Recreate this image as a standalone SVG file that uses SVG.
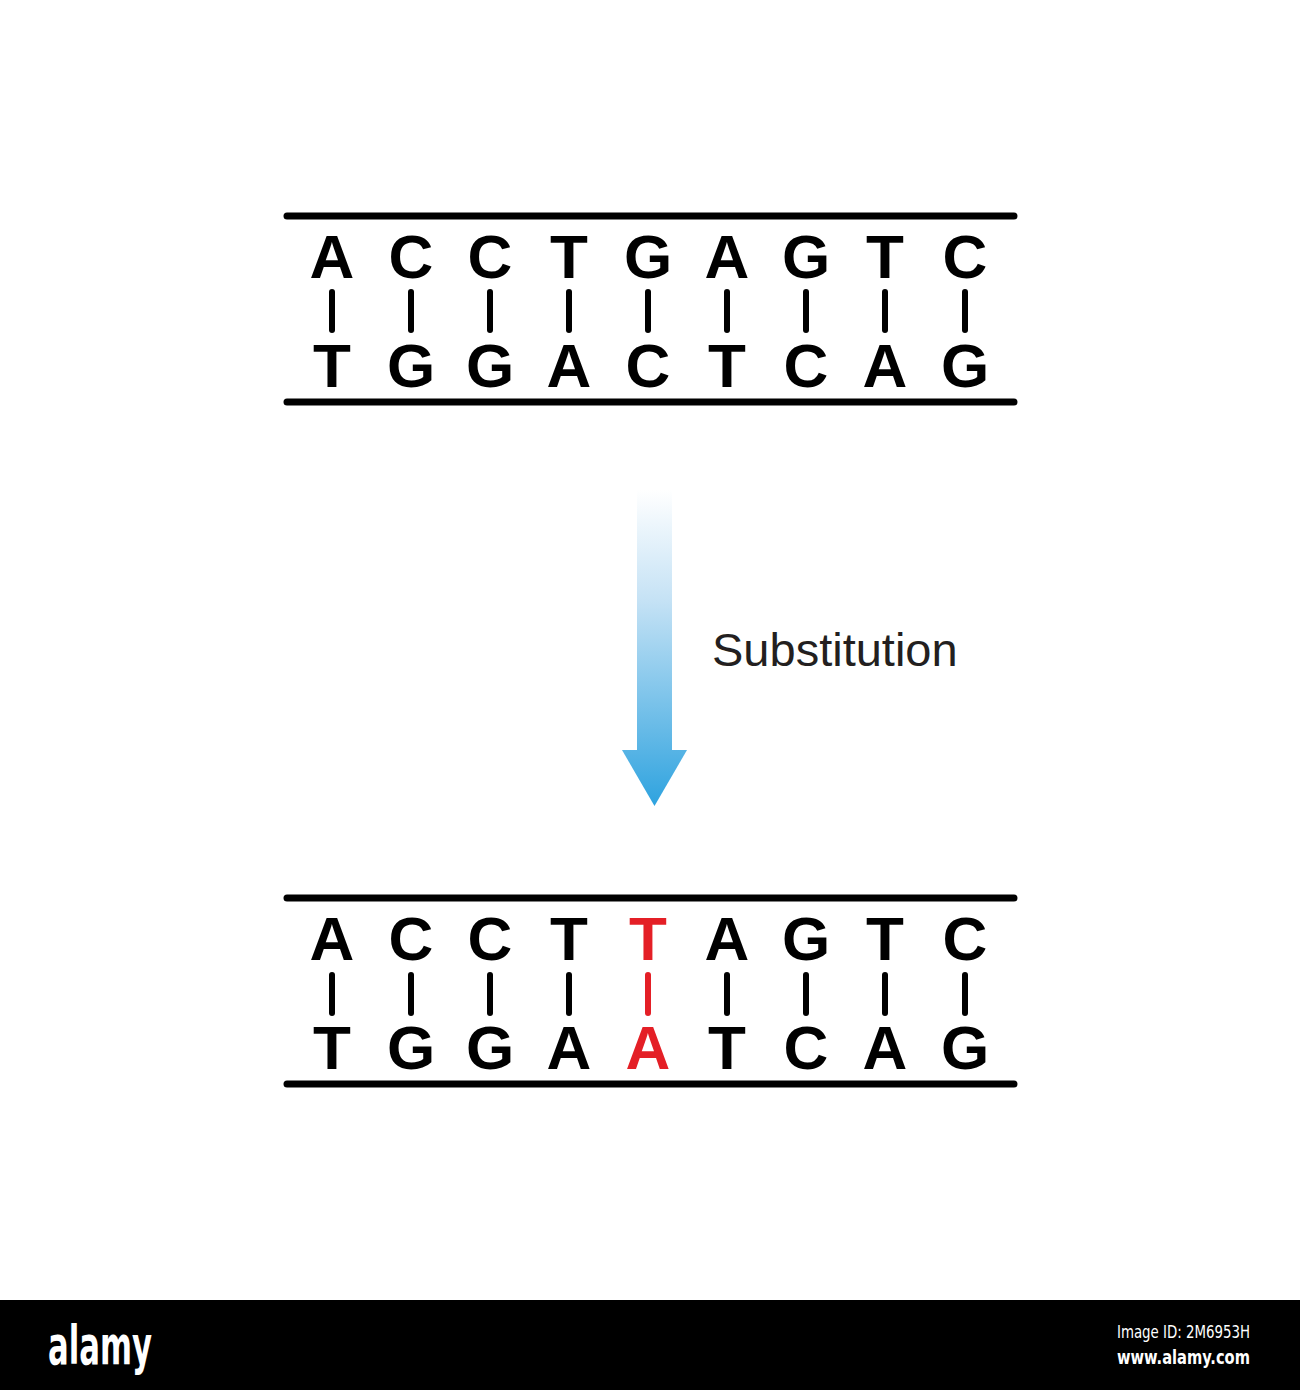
<svg xmlns="http://www.w3.org/2000/svg" width="1300" height="1390" viewBox="0 0 1300 1390">
<style>
.strand{stroke:#000;stroke-width:7;stroke-linecap:round;fill:none}
.bond{stroke:#000;stroke-width:6;stroke-linecap:round}
.bond.m{stroke:#e41f26}
.base{font-family:"Liberation Sans",Arial,sans-serif;font-weight:bold;font-size:62px;text-anchor:middle;fill:#000}
.base.m{fill:#e41f26}
.lbl{font-family:"Liberation Sans",Arial,sans-serif;font-size:47px;fill:#231f20}
.wm{font-family:"DejaVu Sans Condensed","Liberation Sans Narrow",sans-serif;fill:#fff}
</style>
<defs>
<linearGradient id="ag" x1="0" y1="490" x2="0" y2="805" gradientUnits="userSpaceOnUse">
<stop offset="0" stop-color="#ffffff"/>
<stop offset="0.35" stop-color="#c5e2f5"/>
<stop offset="1" stop-color="#2fa3df"/>
</linearGradient>
</defs>
<rect width="1300" height="1390" fill="#fff"/>

<g id="dna-original">
<line class="strand" x1="287" y1="216" x2="1014" y2="216"/>
<line class="strand" x1="287" y1="402" x2="1014" y2="402"/>
<g class="bonds">
<line class="bond" x1="332" y1="292" x2="332" y2="330"/>
<line class="bond" x1="411" y1="292" x2="411" y2="330"/>
<line class="bond" x1="490" y1="292" x2="490" y2="330"/>
<line class="bond" x1="569" y1="292" x2="569" y2="330"/>
<line class="bond" x1="648" y1="292" x2="648" y2="330"/>
<line class="bond" x1="727" y1="292" x2="727" y2="330"/>
<line class="bond" x1="806" y1="292" x2="806" y2="330"/>
<line class="bond" x1="885" y1="292" x2="885" y2="330"/>
<line class="bond" x1="965" y1="292" x2="965" y2="330"/>
</g>
<g class="top">
<text class="base" x="332" y="278">A</text>
<text class="base" x="411" y="278">C</text>
<text class="base" x="490" y="278">C</text>
<text class="base" x="569" y="278">T</text>
<text class="base" x="648" y="278">G</text>
<text class="base" x="727" y="278">A</text>
<text class="base" x="806" y="278">G</text>
<text class="base" x="885" y="278">T</text>
<text class="base" x="965" y="278">C</text>
</g>
<g class="bottom">
<text class="base" x="332" y="387">T</text>
<text class="base" x="411" y="387">G</text>
<text class="base" x="490" y="387">G</text>
<text class="base" x="569" y="387">A</text>
<text class="base" x="648" y="387">C</text>
<text class="base" x="727" y="387">T</text>
<text class="base" x="806" y="387">C</text>
<text class="base" x="885" y="387">A</text>
<text class="base" x="965" y="387">G</text>
</g>
</g>

<g id="connectors">
<g id="arrow">
<rect x="637" y="490" width="35" height="262" fill="url(#ag)"/>
<polygon points="622,750 687,750 654.5,806" fill="url(#ag)"/>
</g>
<text id="label" class="lbl" x="712" y="666">Substitution</text>
</g>

<g id="dna-mutated">
<line class="strand" x1="287" y1="898" x2="1014" y2="898"/>
<line class="strand" x1="287" y1="1084" x2="1014" y2="1084"/>
<g class="bonds">
<line class="bond" x1="332" y1="975" x2="332" y2="1013"/>
<line class="bond" x1="411" y1="975" x2="411" y2="1013"/>
<line class="bond" x1="490" y1="975" x2="490" y2="1013"/>
<line class="bond" x1="569" y1="975" x2="569" y2="1013"/>
<line class="bond m" x1="648" y1="975" x2="648" y2="1013"/>
<line class="bond" x1="727" y1="975" x2="727" y2="1013"/>
<line class="bond" x1="806" y1="975" x2="806" y2="1013"/>
<line class="bond" x1="885" y1="975" x2="885" y2="1013"/>
<line class="bond" x1="965" y1="975" x2="965" y2="1013"/>
</g>
<g class="top">
<text class="base" x="332" y="960">A</text>
<text class="base" x="411" y="960">C</text>
<text class="base" x="490" y="960">C</text>
<text class="base" x="569" y="960">T</text>
<text class="base m" x="648" y="960">T</text>
<text class="base" x="727" y="960">A</text>
<text class="base" x="806" y="960">G</text>
<text class="base" x="885" y="960">T</text>
<text class="base" x="965" y="960">C</text>
</g>
<g class="bottom">
<text class="base" x="332" y="1069">T</text>
<text class="base" x="411" y="1069">G</text>
<text class="base" x="490" y="1069">G</text>
<text class="base" x="569" y="1069">A</text>
<text class="base m" x="648" y="1069">A</text>
<text class="base" x="727" y="1069">T</text>
<text class="base" x="806" y="1069">C</text>
<text class="base" x="885" y="1069">A</text>
<text class="base" x="965" y="1069">G</text>
</g>
</g>

<g id="footer">
<rect x="0" y="1300" width="1300" height="90" fill="#000"/>
<text class="wm" x="48" y="1364" font-size="54" font-weight="bold" textLength="104" lengthAdjust="spacingAndGlyphs">alamy</text>
<text class="wm" x="1117" y="1338" font-size="17" textLength="133" lengthAdjust="spacingAndGlyphs">Image ID: 2M6953H</text>
<text class="wm" x="1117" y="1364" font-size="20" font-weight="bold" textLength="133" lengthAdjust="spacingAndGlyphs">www.alamy.com</text>
</g>
</svg>
